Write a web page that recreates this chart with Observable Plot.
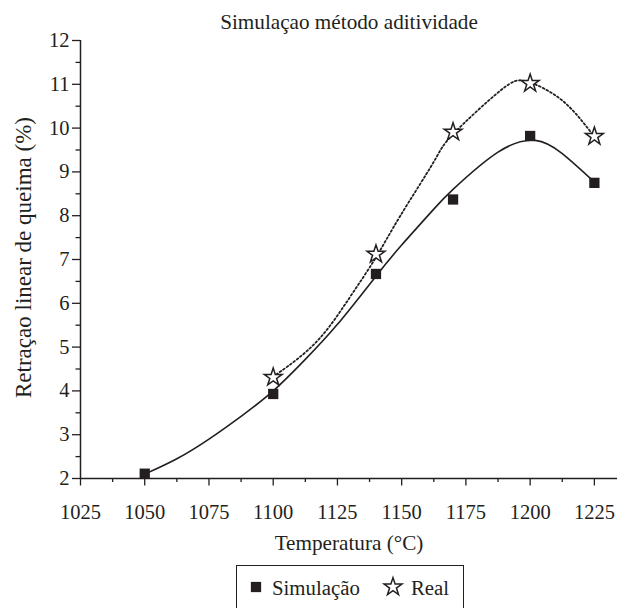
<!DOCTYPE html>
<html>
<head>
<meta charset="utf-8">
<script src="https://cdn.jsdelivr.net/npm/d3@7"></script>
<script src="https://cdn.jsdelivr.net/npm/@observablehq/plot@0.6"></script>
<style>
  html, body { margin: 0; padding: 0; background: #fff; }
  #wrap { position: relative; width: 617px; height: 608px; overflow: hidden; }
  #wrap svg text { font-family: "Liberation Serif", "Times New Roman", Times, serif; }
  #legend { position: absolute; left: 236px; top: 565px; width: 228px; height: 60px;
            border: 1.3px solid #231f20; box-sizing: border-box;
            font-family: "Liberation Serif", "Times New Roman", Times, serif;
            font-size: 20.8px; color: #231f20; }
  #legend .item { position: absolute; line-height: 20px; white-space: nowrap; }
  #legend svg { position: absolute; overflow: visible; }
</style>
</head>
<body>
<div id="wrap"></div>
<script>
// ---- data ----
const titleText = "Simulaçao método aditividade";
const xLabel = "Temperatura (°C)";
const yLabel = "Retraçao linear de queima (%)";
const seriesNames = ["Simulação", "Real"];

const simTemp = [1050, 1100, 1140, 1170, 1200, 1225];
const simValue = [2.11, 3.93, 6.67, 8.37, 9.82, 8.75];

const realTemp = [1100, 1140, 1170, 1200, 1225];
const realValue = [4.31, 7.12, 9.91, 11.02, 9.81];

// trend curves
const simFitTemp = [1050, 1062.5, 1075, 1087.5, 1100, 1112.5, 1125, 1140, 1150, 1162.5, 1170, 1187.5, 1202, 1212.5, 1225];
const simFitValue = [2.1, 2.45, 2.9, 3.42, 4.0, 4.72, 5.52, 6.62, 7.33, 8.15, 8.6, 9.45, 9.72, 9.42, 8.77];

const realFitTemp = [1100, 1103, 1116.5, 1129.4, 1140, 1149.5, 1162.4, 1170, 1188.5, 1199, 1212.5, 1225];
const realFitValue = [4.32, 4.45, 5.1, 6.1, 7.05, 8.0, 9.22, 9.86, 10.86, 11.06, 10.63, 9.8];

const xTicks = [1025, 1050, 1075, 1100, 1125, 1150, 1175, 1200, 1225];
const xMinorTicks = [1037.5, 1062.5, 1087.5, 1112.5, 1137.5, 1162.5, 1187.5, 1212.5];
const yTicks = [2, 3, 4, 5, 6, 7, 8, 9, 10, 11, 12];
const yMinorTicks = [2.5, 3.5, 4.5, 5.5, 6.5, 7.5, 8.5, 9.5, 10.5, 11.5];

// ---- tables ----
const sim = simTemp.map((t, i) => ({t, v: simValue[i]}));
const real = realTemp.map((t, i) => ({t, v: realValue[i]}));
const simFit = simFitTemp.map((t, i) => ({t, v: simFitValue[i]}));
const realFit = realFitTemp.map((t, i) => ({t, v: realFitValue[i]}));

const ink = "#231f20";
const font = "'Liberation Serif', 'Times New Roman', Times, serif";

const chart = Plot.plot({
  width: 617,
  height: 560,
  marginLeft: 80,
  marginRight: 0,
  marginTop: 40,
  marginBottom: 82,
  style: {fontFamily: font, fontSize: "20px", color: ink, background: "#fff"},
  x: {domain: [1025, 1234]},
  y: {domain: [2, 12]},
  marks: [
    // axes
    Plot.axisY({ticks: yMinorTicks, tickSize: 4.5, text: null, stroke: ink, strokeWidth: 1.3, label: null}),
    Plot.axisY({ticks: yTicks, tickSize: 8, tickPadding: 3, stroke: ink, strokeWidth: 1.3, fill: ink, label: null, fontSize: 20.5}),
    Plot.axisX({ticks: xMinorTicks, tickSize: 4, text: null, stroke: ink, strokeWidth: 1.3, label: null}),
    Plot.axisX({ticks: xTicks, tickSize: 7.5, tickPadding: 18, stroke: ink, strokeWidth: 1.3, fill: ink, label: null, fontSize: 20.5, tickFormat: d => String(d)}),
    Plot.ruleX([1025], {stroke: ink, strokeWidth: 1.5}),
    Plot.ruleY([2], {stroke: ink, strokeWidth: 1.5}),
    // trend curves
    Plot.line(realFit, {x: "t", y: "v", curve: "natural", stroke: ink, strokeWidth: 1.8, strokeDasharray: "1.8,2.4"}),
    Plot.line(simFit, {x: "t", y: "v", curve: "natural", stroke: ink, strokeWidth: 1.6}),
    // points
    Plot.dot(sim, {x: "t", y: "v", symbol: "square", r: 5.8, fill: ink, stroke: "none"}),
    Plot.dot(real, {x: "t", y: "v", symbol: "star", r: 5.6, fill: "#fff", stroke: ink, strokeWidth: 1.5}),
    // texts
    Plot.text([titleText], {text: d => d, frameAnchor: "top", textAnchor: "middle", dy: -18, lineAnchor: "middle", fontSize: 21.2, fill: ink}),
    Plot.text([xLabel], {text: d => d, frameAnchor: "bottom", textAnchor: "middle", dy: 65, lineAnchor: "middle", fontSize: 21.2, fill: ink}),
    Plot.text([yLabel], {text: d => d, frameAnchor: "left", textAnchor: "middle", dx: -57, dy: -2, rotate: -90, lineAnchor: "middle", fontSize: 23, fill: ink})
  ]
});

const wrap = document.getElementById("wrap");
wrap.appendChild(chart);

// legend
const legend = document.createElement("div");
legend.id = "legend";
const sq = d3.symbol(d3.symbolSquare, Math.PI * 5.8 * 5.8)();
const st = d3.symbol(d3.symbolStar, Math.PI * 5.6 * 5.6)();
legend.innerHTML =
  `<svg width="1" height="1" style="left:19px; top:21px;"><path d="${sq}" fill="${ink}"/></svg>` +
  `<span class="item" style="left:35px; top:12px;">${seriesNames[0]}</span>` +
  `<svg width="1" height="1" style="left:156px; top:21px;"><path d="${st}" fill="#fff" stroke="${ink}" stroke-width="1.5"/></svg>` +
  `<span class="item" style="left:174px; top:12px;">${seriesNames[1]}</span>`;
wrap.appendChild(legend);
</script>
</body>
</html>
